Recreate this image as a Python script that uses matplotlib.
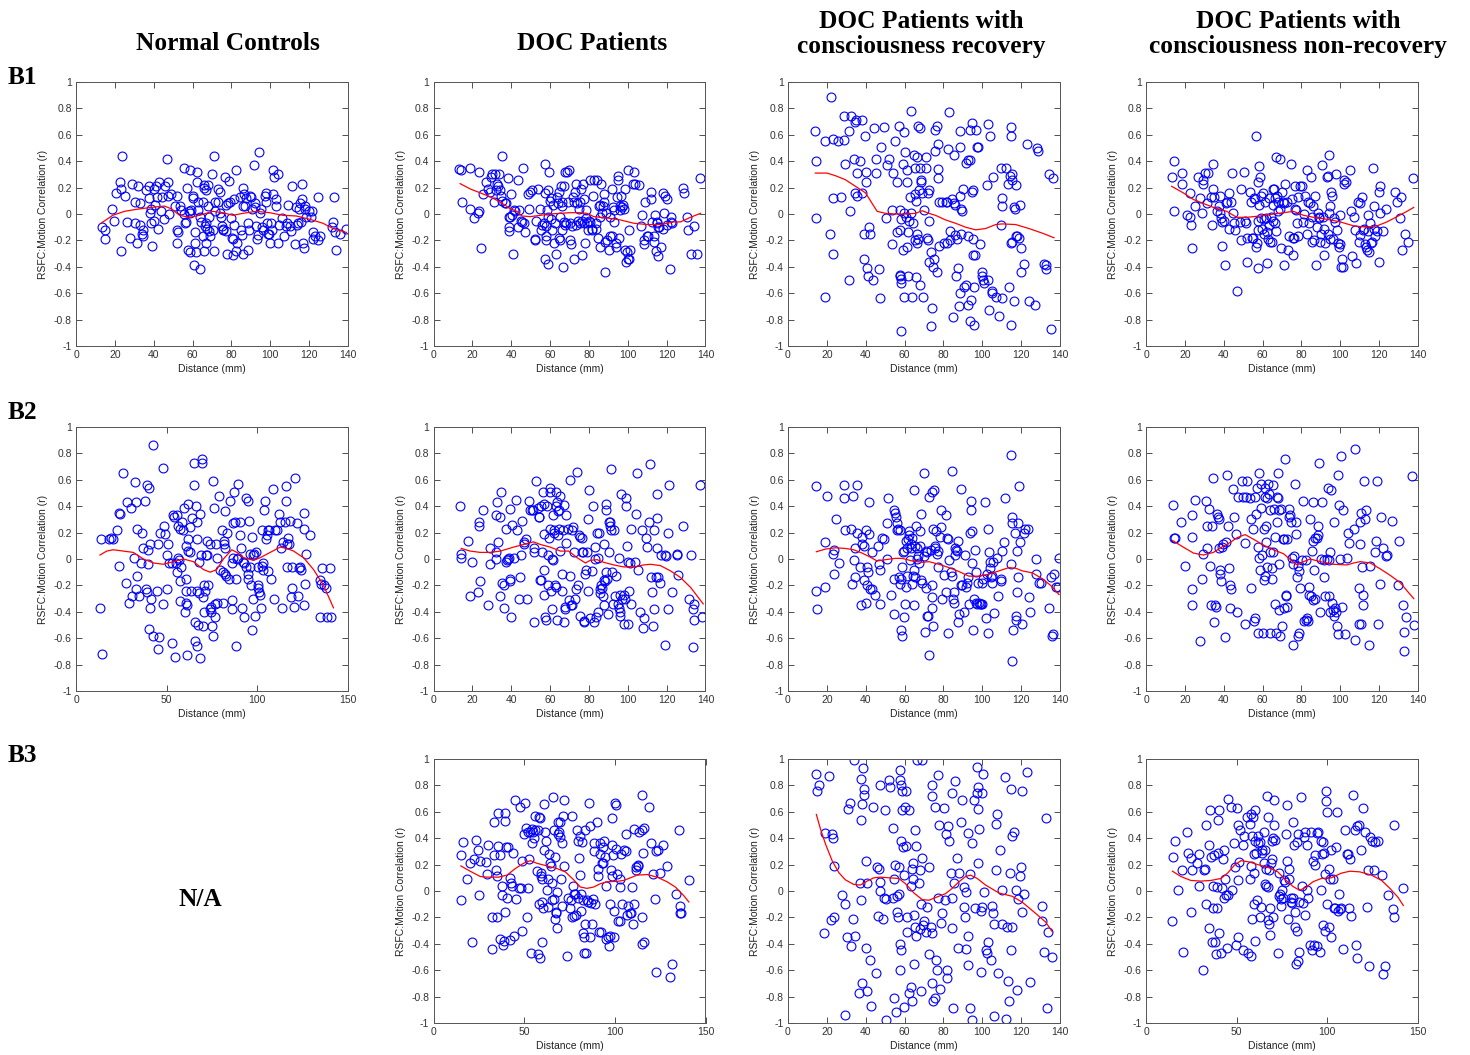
import numpy as np
import matplotlib.pyplot as plt

plt.rcParams['font.family'] = ['Liberation Sans', 'DejaVu Sans']

# ---------------- data ----------------
col_titles = ["Normal Controls", "DOC Patients",
              "DOC Patients with\nconsciousness recovery",
              "DOC Patients with\nconsciousness non-recovery"]
row_labels = ["B1", "B2", "B3"]
y_ticks = [-1, -0.8, -0.6, -0.4, -0.2, 0, 0.2, 0.4, 0.6, 0.8, 1]
y_tick_labels = ["-1", "-0.8", "-0.6", "-0.4", "-0.2", "0", "0.2", "0.4", "0.6", "0.8", "1"]
x_ticks_140 = [0, 20, 40, 60, 80, 100, 120, 140]
x_ticks_150 = [0, 50, 100, 150]

b1_nc = [(13.2,-0.10),(14.9,-0.12),(14.8,-0.19),(18.6,0.04),(19.8,-0.05),(20.6,0.16),(22.7,0.24),(23.4,0.19),(23.5,0.44),(23.2,-0.28),
(25.4,0.14),(26.3,-0.06),(27.7,-0.18),(28.9,0.23),(30.4,0.09),(30.4,-0.07),(31.8,0.21),(31.6,-0.22),(33.0,0.08),(33.0,-0.08),
(34.0,-0.15),(34.4,-0.17),(34.7,-0.12),(36.1,0.18),(37.5,0.21),(37.8,0.12),(38.3,0.01),(38.5,0.04),(38.7,-0.07),(39.2,-0.24),
(39.9,-0.05),(40.2,0.19),(40.9,0.07),(41.2,0.21),(42.1,-0.11),(42.6,0.24),(41.7,0.13),(43.8,0.02),(44.3,0.13),(45.4,-0.04),
(46.0,0.21),(46.7,0.42),(47.4,0.24),(47.1,0.14),(48.1,0.00),(49.0,0.15),(50.9,0.06),(51.9,0.14),(51.9,-0.22),(52.2,-0.12),
(52.7,-0.14),(53.3,0.06),(54.1,0.03),(55.5,0.35),(55.8,0.00),(56.2,-0.07),(56.7,-0.06),(57.0,0.20),(57.7,-0.27),(58.4,0.02),
(58.6,0.33),(58.8,-0.29),(58.9,0.01),(59.4,0.03),(60.0,0.12),(60.1,0.14),(60.5,-0.39),(61.0,-0.14),(61.3,-0.22),(62.0,-0.29),
(62.4,0.24),(62.5,0.32),(62.7,0.09),(62.9,0.03),(63.6,-0.42),(63.9,-0.02),(64.4,-0.06),(65.3,-0.17),(65.6,0.09),(65.8,-0.28),
(66.0,0.20),(66.1,0.22),(66.3,-0.09),(66.7,-0.22),(66.8,0.18),(67.0,-0.07),(67.5,-0.11),(67.9,0.22),(68.0,0.06),(68.4,-0.13),
(68.7,-0.02),(69.1,-0.17),(70.1,0.30),(70.4,-0.12),(70.8,0.44),(71.1,-0.28),(71.5,0.09),(71.6,0.02),(73.0,0.19),(73.2,0.09),
(73.9,0.17),(74.2,0.01),(74.7,-0.02),(75.2,-0.09),(75.6,-0.11),(75.9,-0.12),(76.6,0.28),(77.0,0.07),(77.3,-0.13),(77.7,-0.30),
(78.0,0.08),(78.7,0.25),(79.4,0.09),(79.9,-0.03),(80.2,-0.18),(80.6,-0.19),(80.7,-0.31),(81.1,-0.08),(81.4,0.11),(82.1,0.33),
(82.5,-0.28),(83.1,-0.22),(84.5,0.13),(85.0,-0.12),(85.6,-0.16),(85.7,-0.30),(85.9,0.20),(86.2,0.06),(86.6,0.15),(86.9,0.06),
(87.6,0.12),(88.5,-0.27),(88.6,-0.07),(89.3,-0.12),(89.5,0.14),(90.0,0.13),(90.5,0.04),(91.7,0.37),(91.9,0.08),(92.3,0.05),
(92.8,-0.09),(93.3,-0.19),(93.6,-0.16),(94.0,0.47),(94.5,0.01),(95.3,0.04),(95.9,-0.10),(96.2,-0.12),(97.2,0.14),(97.6,0.09),
(97.9,0.16),(98.4,-0.07),(98.9,-0.15),(99.3,-0.15),(99.6,-0.22),(100.3,-0.07),(100.8,-0.12),(101.2,0.15),(101.4,0.33),(102.0,0.28),
(102.7,0.06),(103.1,0.11),(103.8,0.30),(104.1,-0.22),(104.3,-0.08),(106.0,-0.03),(107.2,-0.17),(108.2,-0.09),(108.6,-0.07),(109.3,0.07),
(110.0,-0.09),(110.5,-0.13),(111.3,0.21),(112.5,-0.23),(113.4,0.05),(113.7,-0.08),(114.4,-0.07),(114.8,0.04),(115.1,0.08),(115.8,-0.06),
(116.3,0.11),(116.5,0.23),(116.8,-0.22),(117.3,-0.26),(117.9,0.06),(117.9,0.04),(118.5,-0.02),(120.1,0.02),(120.9,-0.02),(121.5,0.02),
(122.0,-0.19),(122.1,-0.14),(123.2,-0.17),(124.4,-0.20),(124.4,0.13),(125.8,-0.17),(131.8,-0.10),(132.1,-0.06),(132.8,0.13),(133.5,-0.14),
(134.0,-0.27),(136.1,-0.15),(138.8,-0.11)]
b1_nc_fit_x = [12.9, 18.9, 24.9, 30.9, 38.7, 45.5, 49.0, 53.3, 58.4, 63.6, 70.4, 75.6, 80.7, 85.9, 92.8, 99.6, 106.5, 113.4, 120.3, 127.1, 132.3, 135.7, 139.2]
b1_nc_fit_y = [-0.07, -0.01, 0.02, 0.035, 0.05, 0.06, 0.04, -0.01, -0.025, -0.01, 0.02, 0.01, -0.01, 0.005, 0.02, 0.01, -0.01, -0.015, -0.04, -0.07, -0.11, -0.125, -0.14]

b1_doc = [(13.2,0.34),(14.4,0.33),(14.6,0.09),(18.9,0.35),(18.9,0.04),(21.1,-0.03),(22.7,0.01),(23.5,0.02),(23.2,0.32),(24.4,-0.26),
(25.3,0.15),(27.0,0.24),(28.0,0.19),(29.0,0.17),(29.7,0.28),(30.2,0.30),(31.3,0.09),(31.4,0.30),(32.3,0.18),(32.6,0.23),
(33.0,0.21),(33.7,0.30),(34.0,0.18),(34.5,0.14),(35.2,0.44),(35.2,0.10),(36.9,0.08),(37.5,0.08),(38.1,0.27),(38.7,-0.13),
(38.7,-0.10),(38.7,-0.02),(39.5,-0.02),(39.9,0.15),(40.4,-0.01),(40.7,-0.30),(41.6,0.03),(41.7,0.02),(43.3,-0.10),(43.5,0.26),
(44.2,0.03),(45.0,-0.05),(45.7,-0.06),(45.9,0.35),(46.4,-0.07),(46.9,-0.14),(48.4,0.15),(49.3,0.04),(49.5,0.17),(50.7,0.18),
(52.4,-0.19),(52.4,-0.20),(52.7,-0.05),(53.6,0.19),(54.8,0.04),(55.3,-0.12),(55.8,-0.08),(56.7,-0.07),(57.2,0.38),(57.4,0.16),
(57.6,-0.34),(57.7,-0.09),(57.9,-0.20),(58.1,-0.17),(58.4,0.03),(58.8,-0.02),(58.9,-0.38),(59.1,0.18),(59.4,0.32),(59.8,0.10),
(60.5,-0.04),(60.6,0.12),(61.0,-0.12),(61.5,0.07),(61.8,-0.22),(62.7,-0.07),(63.1,-0.30),(63.6,0.13),(63.9,0.08),(64.4,-0.18),
(64.6,0.17),(64.9,-0.20),(65.3,-0.02),(65.6,0.21),(66.0,0.06),(66.1,-0.12),(66.3,0.09),(66.7,-0.40),(67.0,-0.06),(67.3,0.21),
(67.5,0.32),(67.7,-0.08),(68.4,-0.07),(68.7,0.32),(69.1,0.09),(69.6,0.33),(70.1,-0.20),(70.4,-0.07),(70.8,-0.23),(71.3,-0.09),
(71.6,0.13),(72.2,-0.34),(72.5,0.09),(72.8,0.17),(73.2,-0.08),(73.5,0.23),(73.9,0.08),(74.2,-0.05),(74.9,0.04),(75.2,-0.07),
(75.6,0.09),(75.9,0.19),(76.3,-0.31),(76.6,-0.05),(77.0,0.23),(77.3,-0.07),(77.7,0.11),(78.0,-0.22),(78.3,0.03),(78.7,-0.03),
(79.0,-0.07),(79.4,-0.12),(80.1,-0.05),(80.4,0.26),(80.7,-0.06),(81.4,-0.11),(81.8,-0.12),(82.1,0.14),(82.8,0.26),(83.5,-0.07),
(83.8,-0.11),(84.2,0.26),(84.5,-0.18),(85.0,0.06),(85.6,-0.25),(85.9,-0.02),(85.9,0.07),(86.4,0.23),(86.9,0.01),(87.3,0.06),
(87.6,0.15),(88.0,0.09),(88.1,-0.44),(88.5,-0.21),(89.0,0.01),(89.5,-0.20),(90.2,-0.27),(90.7,-0.02),(91.1,-0.17),(91.7,0.19),
(91.9,-0.17),(92.4,0.05),(92.8,0.03),(93.1,-0.06),(93.8,-0.22),(94.1,-0.25),(94.5,0.13),(94.8,0.26),(95.2,0.29),(95.3,-0.18),
(95.9,0.03),(96.2,0.06),(96.7,0.14),(97.1,0.05),(97.4,0.07),(97.9,0.04),(98.4,-0.27),(98.8,0.19),(99.3,-0.36),(99.6,-0.29),
(100.0,-0.34),(100.3,0.33),(100.7,-0.34),(100.8,-0.12),(101.2,-0.27),(102.7,0.23),(103.1,0.32),(103.8,0.23),(105.8,0.22),(106.7,-0.09),
(107.4,-0.01),(108.1,-0.20),(108.6,-0.23),(109.1,0.09),(110.0,-0.17),(110.6,-0.17),(111.7,0.17),(112.0,0.11),(112.4,-0.06),(113.4,-0.17),
(113.7,-0.21),(114.1,-0.01),(114.4,-0.28),(114.8,-0.06),(115.1,-0.07),(115.4,-0.10),(115.8,-0.32),(116.1,-0.10),(117.2,-0.25),(117.9,0.16),
(118.2,-0.11),(118.5,0.01),(119.4,0.14),(120.1,0.11),(120.3,-0.08),(121.5,-0.42),(122.0,-0.06),(122.3,-0.02),(122.8,-0.07),(128.5,0.20),
(128.7,0.16),(130.6,-0.02),(130.9,-0.12),(132.3,-0.30),(134.0,-0.09),(135.4,-0.30),(137.4,0.27)]
b1_doc_fit_x = [13.7, 18.9, 24.1, 29.2, 34.4, 39.5, 43.0, 45.5, 49.8, 55.0, 60.1, 65.3, 70.4, 75.6, 79.0, 82.5, 89.3, 96.2, 103.1, 110.0, 116.8, 123.7, 127.1, 132.3, 137.4]
b1_doc_fit_y = [0.23, 0.19, 0.16, 0.13, 0.09, 0.04, 0.02, -0.015, -0.02, -0.01, 0.0, 0.005, 0.01, 0.01, 0.005, -0.02, -0.03, -0.045, -0.07, -0.08, -0.08, -0.06, -0.06, -0.025, 0.005]

b1_rec = [(22.3,0.89),(14.1,0.63),(14.4,0.40),(19.2,0.55),(23.2,0.57),(25.6,0.55),(28.9,0.56),(29.0,0.74),(29.5,0.38),(31.3,0.63),
(32.5,0.74),(33.8,0.42),(34.4,0.70),(35.0,0.71),(35.6,0.31),(34.4,0.16),(35.6,0.14),(37.1,0.40),(38.1,0.71),(38.1,0.16),
(39.7,0.59),(39.9,0.32),(40.2,0.24),(23.2,0.12),(27.3,0.13),(32.1,0.02),(14.4,-0.03),(21.5,-0.15),(23.4,-0.30),(31.3,-0.50),
(19.2,-0.63),(39.0,-0.15),(39.2,-0.34),(40.7,-0.41),(41.2,-0.47),(41.6,-0.10),(42.4,-0.15),(43.6,-0.50),(44.2,0.65),(45.5,0.42),
(45.5,0.31),(46.7,-0.42),(47.2,-0.64),(47.8,0.51),(49.5,0.66),(50.3,-0.03),(51.0,0.37),(51.9,0.42),(53.3,-0.23),(53.6,0.03),
(53.9,0.31),(55.1,0.55),(56.2,0.24),(56.2,-0.14),(57.0,0.67),(57.4,0.03),(57.7,-0.12),(57.9,-0.46),(57.9,-0.47),(58.2,-0.49),
(58.4,-0.52),(58.4,-0.04),(58.2,-0.89),(59.1,-0.27),(59.3,0.38),(59.6,0.62),(59.6,0.01),(59.8,-0.63),(60.1,0.47),(60.5,-0.02),
(61.2,0.33),(61.3,-0.25),(61.5,0.24),(61.8,-0.47),(62.2,-0.05),(61.8,-0.14),(62.7,0.13),(63.1,0.78),(63.2,0.01),(63.6,-0.63),
(64.3,-0.07),(64.8,0.45),(65.3,0.15),(65.3,0.35),(65.6,-0.20),(66.0,0.10),(66.1,-0.48),(66.3,-0.22),(66.5,0.43),(66.5,-0.15),
(66.7,0.67),(67.0,-0.19),(67.3,0.18),(67.7,0.65),(67.9,0.35),(68.0,-0.54),(68.2,0.24),(68.7,0.26),(69.1,0.16),(69.4,-0.63),
(70.1,0.03),(70.8,0.43),(70.8,0.35),(71.3,-0.18),(72.0,-0.20),(72.2,0.16),(72.5,0.18),(72.5,-0.05),(72.8,-0.36),(73.5,-0.29),
(73.9,-0.71),(73.4,-0.85),(74.6,-0.40),(75.2,-0.34),(75.6,0.64),(75.9,0.48),(76.8,0.67),(77.0,0.53),(77.3,0.34),(77.3,0.27),
(77.7,-0.24),(76.8,-0.44),(77.7,0.09),(79.4,0.09),(80.2,-0.22),(81.1,0.09),(81.6,0.09),(81.9,-0.22),(82.3,0.49),(82.8,0.77),
(83.2,-0.13),(83.3,-0.20),(84.4,0.11),(84.9,-0.78),(85.2,0.45),(85.6,0.08),(85.9,-0.16),(86.2,0.07),(86.4,-0.47),(86.9,-0.19),
(87.3,-0.41),(88.0,-0.70),(88.3,0.14),(88.5,0.51),(88.6,0.63),(88.6,-0.60),(89.0,-0.15),(89.3,0.04),(89.7,0.02),(89.9,0.19),
(90.7,-0.55),(91.4,-0.54),(91.7,0.39),(92.4,-0.69),(92.4,-0.17),(92.8,0.41),(93.5,0.41),(93.5,-0.81),(93.8,0.64),(94.1,-0.65),
(94.5,0.69),(94.8,0.17),(95.2,-0.31),(95.3,0.18),(95.3,-0.19),(95.7,-0.84),(95.9,-0.55),(96.2,-0.31),(96.9,0.64),(97.2,0.51),
(97.8,0.51),(98.6,-0.23),(100.0,-0.44),(100.0,-0.47),(100.3,-0.50),(100.8,-0.52),(102.6,0.22),(102.7,0.68),(102.9,-0.50),(103.4,-0.73),
(103.8,0.59),(104.8,-0.58),(105.5,0.28),(105.1,-0.60),(106.9,-0.63),(108.6,-0.77),(109.4,0.35),(110.0,-0.64),(109.8,-0.08),(110.3,0.12),
(110.3,0.06),(112.0,0.35),(113.2,0.23),(113.7,-0.55),(114.2,0.29),(114.6,0.66),(114.8,0.59),(114.9,-0.22),(115.1,0.26),(115.4,-0.21),
(115.4,0.30),(116.3,0.05),(116.5,-0.66),(116.8,0.04),(117.2,0.22),(117.3,-0.17),(118.0,-0.17),(118.9,-0.18),(119.2,0.07),(119.9,-0.26),
(119.7,-0.44),(121.5,-0.38),(123.2,0.53),(124.0,-0.66),(128.3,0.50),(128.8,0.48),(127.1,-0.69),(131.8,-0.38),(132.6,-0.39),(133.0,-0.42),
(134.3,0.30),(136.6,0.27),(135.4,-0.87),(114.6,-0.84)]
b1_rec_fit_x = [14.1, 20.1, 24.4, 29.5, 34.7, 39.9, 43.3, 45.9, 50.2, 55.3, 60.5, 65.6, 69.1, 72.5, 75.9, 81.1, 86.2, 91.4, 96.6, 101.7, 106.9, 110.3, 117.2, 124.0, 130.9, 136.9]
b1_rec_fit_y = [0.31, 0.31, 0.29, 0.26, 0.21, 0.16, 0.08, 0.02, 0.005, 0.0, 0.0, 0.005, 0.025, 0.005, -0.01, -0.045, -0.07, -0.10, -0.12, -0.11, -0.08, -0.075, -0.08, -0.11, -0.145, -0.18]

b1_nrec = [(13.2,0.28),(14.3,0.40),(14.3,0.02),(18.7,0.31),(18.6,0.23),(21.0,-0.01),(22.5,-0.02),(22.7,0.16),(23.2,-0.08),(23.9,-0.26),
(25.1,0.06),(26.6,0.28),(28.0,0.12),(28.7,0.01),(29.2,0.26),(29.5,0.23),(30.6,0.31),(31.3,0.08),(32.1,0.31),(33.3,0.13),
(33.8,-0.08),(34.4,0.19),(34.7,0.38),(35.0,0.13),(36.8,0.02),(37.6,0.06),(38.1,0.14),(38.3,0.01),(38.7,-0.03),(39.0,-0.24),
(39.3,-0.06),(40.2,-0.05),(40.7,-0.39),(41.2,0.08),(41.9,0.09),(42.8,-0.11),(42.9,0.16),(43.6,0.09),(44.5,0.31),(45.0,0.01),
(45.4,-0.07),(46.0,-0.12),(46.7,-0.58),(48.4,-0.06),(48.8,-0.20),(48.8,0.19),(50.2,0.32),(50.9,-0.05),(51.5,-0.07),(51.9,-0.18),
(52.2,-0.36),(53.3,0.17),(54.1,0.09),(54.6,-0.18),(55.3,-0.18),(55.8,0.12),(56.2,0.11),(56.5,0.59),(56.7,-0.25),(57.0,-0.22),
(57.4,-0.12),(57.6,0.24),(57.9,-0.05),(57.9,-0.41),(58.2,0.36),(58.4,0.07),(58.8,0.28),(59.1,0.14),(59.3,-0.03),(59.8,-0.11),
(60.1,0.16),(60.5,-0.04),(60.8,-0.15),(61.2,0.09),(61.8,-0.03),(62.2,-0.14),(62.5,-0.37),(62.9,-0.19),(63.2,-0.08),(63.4,0.12),
(63.9,-0.21),(64.3,-0.02),(64.8,-0.21),(65.3,0.07),(65.6,0.19),(65.6,-0.05),(66.0,0.19),(66.3,0.12),(66.5,-0.07),(66.7,-0.13),
(67.0,0.43),(67.3,0.14),(67.7,0.09),(68.0,0.02),(69.1,0.42),(69.1,0.04),(69.4,-0.26),(69.8,0.17),(70.3,0.09),(70.8,0.08),
(71.1,-0.39),(71.8,0.23),(72.5,0.09),(73.0,-0.27),(73.7,-0.17),(74.6,0.38),(75.1,0.11),(75.6,-0.18),(75.9,-0.31),(76.3,-0.18),
(76.8,0.21),(76.8,0.04),(77.1,0.03),(77.7,-0.07),(78.0,0.13),(78.3,-0.17),(79.4,0.21),(80.4,0.21),(80.7,-0.06),(81.1,0.00),
(81.9,0.14),(82.8,0.33),(82.8,-0.15),(83.2,0.09),(83.7,-0.07),(84.2,0.08),(84.9,0.28),(85.2,-0.21),(85.6,-0.02),(86.2,0.06),
(86.6,-0.20),(87.1,0.14),(87.6,-0.39),(88.0,-0.10),(88.3,0.01),(88.8,-0.02),(89.3,-0.03),(89.7,-0.21),(90.0,-0.15),(90.5,0.37),
(91.1,-0.02),(91.4,-0.11),(91.7,-0.31),(92.3,-0.22),(93.1,0.28),(93.5,0.29),(93.8,-0.15),(94.0,0.01),(94.3,0.45),(94.5,0.06),
(94.8,-0.19),(95.2,0.17),(95.7,0.14),(96.2,-0.19),(96.6,-0.03),(97.2,-0.06),(97.9,0.30),(98.3,-0.12),(98.6,-0.22),(99.1,-0.25),
(99.6,-0.23),(100.0,-0.01),(100.3,-0.40),(100.8,-0.34),(101.4,-0.40),(101.7,0.26),(102.0,0.23),(102.7,0.24),(105.1,0.33),(105.5,0.02),
(105.8,-0.32),(106.9,-0.02),(107.7,-0.12),(108.1,-0.37),(108.9,0.09),(109.4,-0.21),(110.0,-0.16),(110.3,0.08),(111.2,0.13),(111.7,-0.12),
(112.4,-0.11),(112.9,-0.23),(113.2,-0.25),(113.7,-0.27),(114.1,-0.13),(114.4,-0.01),(114.8,-0.29),(115.4,-0.07),(115.8,-0.22),(116.3,-0.21),
(116.8,0.35),(117.2,-0.11),(117.5,0.06),(118.0,-0.17),(118.9,-0.13),(119.7,-0.36),(119.9,0.17),(120.3,0.21),(120.6,0.01),(121.8,-0.13),
(123.5,0.04),(128.3,0.17),(129.2,0.09),(130.6,-0.03),(131.3,0.13),(131.9,-0.27),(133.5,-0.15),(134.9,-0.21),(137.4,0.27)]
b1_nrec_fit_x = [13.2, 19.2, 24.4, 29.5, 34.7, 41.6, 46.7, 51.9, 58.8, 65.6, 70.8, 75.9, 81.1, 86.2, 93.1, 100.0, 106.9, 113.7, 118.9, 124.0, 129.2, 134.3, 137.8]
b1_nrec_fit_y = [0.21, 0.16, 0.11, 0.08, 0.05, 0.02, -0.025, -0.025, -0.015, 0.0, 0.01, 0.02, -0.01, -0.025, -0.04, -0.06, -0.09, -0.10, -0.09, -0.06, -0.02, 0.02, 0.05]

b2_nc = [(13.2,-0.37),(14.5,-0.72),(13.6,0.15),(18.2,0.15),(19.2,0.16),(20.2,0.15),(22.8,0.22),(23.7,-0.05),(23.9,0.35),(24.1,0.34),
(26.1,0.65),(27.4,-0.18),(28.0,0.43),(29.1,-0.33),(30.4,0.39),(31.1,-0.28),(32.0,0.01),(32.6,0.58),(32.9,0.43),(32.9,-0.23),
(33.5,0.23),(33.5,-0.13),(35.0,-0.28),(35.9,-0.03),(36.2,0.20),(36.8,0.08),(38.1,0.44),(38.6,-0.23),(39.0,0.56),(39.0,-0.25),
(39.6,0.07),(39.6,-0.04),(40.5,-0.53),(40.5,0.54),(40.8,0.11),(40.8,-0.37),(41.4,-0.30),(42.3,-0.58),(42.7,0.86),(44.5,-0.24),
(45.4,0.11),(45.4,-0.68),(46.0,-0.59),(46.4,0.20),(47.8,-0.34),(47.8,0.69),(48.8,0.25),(49.1,0.19),(50.0,0.03),(50.4,-0.23),
(51.0,0.11),(51.5,-0.03),(52.8,-0.64),(52.8,-0.03),(53.4,0.33),(54.1,0.32),(54.5,-0.74),(55.2,-0.03),(55.9,-0.10),(55.9,0.33),
(56.5,0.25),(56.5,0.01),(56.9,-0.01),(57.4,-0.32),(57.4,-0.17),(57.6,0.23),(57.8,-0.06),(58.3,0.28),(59.2,0.22),(59.6,0.39),
(60.2,-0.40),(60.4,-0.33),(60.7,0.10),(60.7,-0.15),(60.7,-0.24),(61.1,-0.73),(61.1,-0.35),(61.6,0.42),(61.6,0.15),(62.0,0.06),
(62.6,0.05),(62.9,0.24),(63.3,-0.24),(64.0,0.31),(64.8,0.56),(65.3,0.73),(65.7,-0.62),(65.7,-0.48),(66.2,0.40),(66.6,-0.66),
(66.6,0.28),(67.0,0.15),(67.0,-0.24),(67.5,-0.50),(67.7,-0.26),(68.1,-0.02),(68.4,0.34),(68.4,-0.75),(69.0,0.03),(69.4,0.76),
(69.6,0.73),(69.9,-0.29),(70.3,-0.51),(70.7,-0.20),(70.8,-0.40),(71.2,-0.24),(71.8,0.03),(72.1,0.03),(72.5,0.14),(73.0,-0.20),
(74.0,0.11),(74.0,-0.38),(74.3,-0.36),(74.7,-0.40),(74.9,-0.51),(75.4,-0.58),(75.8,0.59),(76.2,0.39),(76.5,-0.34),(76.9,-0.44),
(77.1,0.11),(77.6,0.01),(77.6,-0.33),(78.8,0.48),(79.5,-0.08),(80.4,0.22),(80.8,-0.33),(81.3,-0.10),(81.7,0.14),(81.7,0.11),
(82.1,0.08),(82.2,0.36),(82.4,-0.11),(82.8,-0.13),(83.5,0.20),(84.3,-0.15),(85.0,0.44),(85.9,-0.03),(85.9,-0.31),(86.3,-0.38),
(86.5,0.27),(86.8,0.01),(87.2,0.51),(87.6,0.28),(88.0,-0.15),(88.3,-0.66),(88.7,0.00),(89.1,0.57),(89.6,0.01),(90.2,0.28),
(90.5,0.18),(90.9,0.08),(91.4,-0.37),(92.0,-0.02),(92.4,-0.44),(92.7,-0.03),(93.5,-0.06),(93.8,0.46),(94.6,0.44),(94.8,-0.15),
(95.1,-0.11),(95.3,0.29),(95.7,0.04),(96.0,-0.06),(96.4,-0.20),(96.8,0.17),(97.0,-0.54),(97.5,-0.30),(97.5,0.03),(98.3,0.04),
(98.8,-0.43),(99.4,0.05),(100.1,-0.20),(100.3,-0.22),(100.6,-0.06),(101.0,-0.25),(101.6,-0.27),(101.9,-0.37),(102.3,0.22),(102.5,-0.05),
(103.0,-0.08),(103.4,-0.03),(103.8,0.37),(104.3,0.44),(104.7,0.15),(105.2,0.18),(105.8,-0.09),(106.0,0.22),(106.7,0.22),(107.6,-0.15),
(108.6,0.53),(109.3,-0.30),(109.7,0.22),(110.8,0.22),(112.1,0.34),(112.6,0.28),(113.0,0.08),(113.5,-0.37),(114.4,0.13),(115.4,0.28),
(115.7,0.55),(115.9,0.44),(116.3,0.11),(116.3,-0.06),(116.7,0.16),(117.4,0.11),(118.1,0.29),(118.7,-0.29),(119.0,-0.22),(119.2,-0.06),
(120.0,-0.36),(120.5,0.61),(121.8,0.27),(122.7,-0.28),(122.9,-0.07),(123.6,-0.06),(124.0,-0.08),(125.5,0.23),(125.5,0.35),(125.5,-0.35),
(126.2,-0.19),(126.6,0.04),(128.8,0.18),(134.3,-0.16),(134.7,-0.44),(135.1,-0.19),(135.8,-0.07),(136.5,-0.20),(137.8,-0.22),(138.4,-0.44),
(139.8,-0.07),(140.8,-0.44)]
b2_nc_fit_x = [13.2, 16.9, 20.6, 26.1, 31.6, 37.2, 42.7, 48.2, 53.7, 59.2, 64.8, 70.3, 74.0, 77.6, 81.3, 85.9, 88.7, 92.4, 97.9, 101.6, 107.1, 112.6, 116.3, 120.0, 125.5, 131.0, 136.5, 142.0]
b2_nc_fit_y = [0.03, 0.06, 0.07, 0.06, 0.05, 0.0, -0.03, -0.04, -0.02, 0.0, -0.02, -0.08, -0.10, -0.08, 0.0, 0.07, 0.05, 0.01, -0.01, 0.01, 0.05, 0.09, 0.08, 0.06, 0.01, -0.08, -0.20, -0.37]

b2_doc = [(13.7,0.40),(14.1,0.04),(14.4,0.01),(18.0,0.14),(18.6,-0.28),(19.9,-0.02),(22.8,-0.25),(23.2,0.28),(23.5,0.25),(23.7,-0.17),
(25.3,0.37),(27.8,-0.35),(28.9,0.08),(29.0,-0.04),(32.1,0.00),(32.3,0.05),(32.1,0.33),(32.5,0.43),(33.3,0.13),(34.0,0.32),
(34.4,-0.28),(34.7,0.51),(35.0,-0.18),(36.1,-0.20),(36.4,-0.37),(37.1,0.23),(37.5,-0.02),(37.8,-0.01),(38.1,0.00),(38.7,0.01),
(39.2,0.38),(39.2,-0.15),(39.3,-0.17),(39.9,-0.44),(40.4,0.26),(41.6,0.01),(42.4,0.45),(43.0,0.22),(43.8,-0.30),(44.7,-0.14),
(45.0,0.03),(45.7,0.29),(46.4,0.11),(46.7,0.13),(47.8,0.15),(48.3,-0.30),(49.0,0.44),(49.8,0.37),(50.5,0.37),(51.2,0.37),
(51.5,0.08),(51.9,0.05),(51.9,-0.48),(52.9,0.59),(53.6,0.39),(54.1,0.32),(54.5,0.32),(54.8,-0.16),(55.1,0.40),(55.3,-0.16),
(55.8,0.05),(56.4,0.51),(56.7,0.19),(57.0,0.42),(57.0,-0.08),(57.0,-0.27),(57.4,-0.44),(57.7,-0.46),(58.4,0.40),(58.8,-0.20),
(58.9,0.03),(59.3,0.16),(59.8,0.51),(59.8,0.23),(60.1,0.54),(60.5,-0.24),(60.8,-0.38),(61.0,0.00),(61.3,0.33),(61.5,-0.01),
(61.8,0.22),(62.2,0.20),(62.7,-0.20),(62.9,0.51),(62.9,0.40),(63.2,-0.21),(63.6,0.43),(63.6,-0.46),(63.9,0.36),(64.3,0.18),
(64.4,0.37),(64.8,0.23),(65.3,0.06),(65.3,0.48),(66.0,-0.24),(66.1,-0.11),(66.7,0.22),(67.0,-0.48),(67.3,0.41),(67.5,-0.38),
(67.9,-0.36),(68.4,0.12),(68.4,0.33),(69.1,0.23),(69.6,-0.31),(70.1,0.60),(70.4,-0.13),(70.8,-0.35),(71.1,0.22),(71.5,-0.35),
(71.8,0.24),(72.2,0.05),(72.7,-0.30),(73.5,-0.23),(73.9,0.66),(74.2,-0.20),(74.7,0.18),(75.2,-0.43),(75.6,0.17),(76.6,0.16),
(76.3,0.05),(77.0,0.05),(77.3,-0.47),(77.7,-0.48),(78.0,-0.11),(78.3,-0.08),(79.0,0.05),(79.4,0.30),(79.4,-0.24),(79.9,0.52),
(80.4,-0.45),(81.4,-0.09),(82.1,0.40),(82.8,-0.48),(83.0,0.09),(83.3,0.00),(83.8,-0.44),(84.2,0.20),(84.5,0.01),(84.9,-0.40),
(85.2,0.20),(85.6,-0.26),(85.9,-0.23),(86.2,-0.20),(86.9,-0.22),(87.3,-0.28),(87.6,-0.35),(87.6,0.11),(88.0,-0.16),(88.3,-0.17),
(88.6,0.37),(89.0,-0.10),(89.0,0.42),(89.3,-0.15),(89.7,-0.42),(90.2,0.05),(90.2,0.28),(90.7,0.25),(91.1,0.28),(91.4,0.68),
(91.4,0.22),(91.9,-0.10),(92.4,-0.34),(93.1,0.22),(93.6,-0.28),(94.1,-0.13),(94.8,-0.34),(95.3,0.01),(95.5,-0.37),(95.9,-0.40),
(96.2,-0.43),(96.2,-0.27),(96.6,0.49),(97.1,-0.30),(97.9,-0.49),(98.3,-0.27),(98.6,-0.30),(99.0,0.40),(99.3,0.46),(99.6,0.10),
(100.2,-0.49),(100.3,-0.02),(100.7,-0.24),(101.0,-0.03),(101.4,-0.34),(101.7,0.23),(103.9,-0.02),(104.3,0.34),(104.8,0.65),(105.1,-0.08),
(106.5,-0.40),(107.4,0.22),(107.9,-0.52),(108.6,-0.45),(109.6,0.16),(110.0,0.09),(110.8,0.28),(111.3,0.72),(112.0,-0.14),(112.5,-0.25),
(113.0,-0.51),(113.4,0.22),(113.7,-0.38),(114.4,-0.14),(114.8,0.31),(115.1,0.49),(115.1,0.08),(115.8,-0.14),(116.8,-0.18),(117.3,0.03),
(118.9,-0.65),(118.9,0.03),(119.9,0.02),(120.6,0.20),(120.6,-0.38),(121.3,0.56),(122.7,-0.25),(125.1,0.03),(125.4,0.04),(125.9,-0.12),
(128.2,0.25),(131.6,-0.30),(132.6,0.03),(133.5,-0.67),(133.7,-0.38),(134.0,-0.34),(134.3,-0.46),(137.4,0.56),(138.3,-0.44)]
b2_doc_fit_x = [14.3, 18.9, 24.1, 29.2, 34.4, 41.2, 46.4, 51.5, 55.0, 60.1, 65.3, 69.6, 73.9, 78.2, 80.7, 84.2, 87.6, 92.8, 97.9, 103.1, 108.2, 111.7, 116.8, 122.0, 127.1, 132.3, 135.7, 138.8]
b2_doc_fit_y = [0.08, 0.06, 0.05, 0.05, 0.06, 0.09, 0.11, 0.13, 0.11, 0.09, 0.06, 0.06, 0.01, -0.03, -0.01, -0.005, -0.025, -0.045, -0.06, -0.06, -0.045, -0.04, -0.05, -0.09, -0.14, -0.215, -0.28, -0.34]

b2_rec = [(14.6,0.55),(14.4,-0.24),(14.9,-0.38),(18.9,-0.21),(20.1,0.48),(19.2,0.13),(23.0,0.04),(23.5,0.07),(23.5,-0.11),(24.9,0.30),
(26.5,-0.03),(28.7,0.56),(28.9,0.46),(29.5,0.22),(32.6,0.23),(32.8,-0.19),(33.3,0.48),(33.8,-0.01),(34.4,0.08),(34.7,-0.14),
(35.7,0.56),(35.6,0.20),(37.3,-0.06),(37.6,-0.35),(38.1,0.11),(38.1,0.17),(39.0,-0.16),(39.3,0.10),(40.2,0.22),(40.2,-0.33),
(40.5,-0.06),(40.9,-0.20),(41.2,-0.10),(41.9,0.19),(41.9,0.43),(42.4,-0.23),(43.3,0.05),(43.3,-0.23),(44.7,-0.27),(46.4,0.10),
(46.7,-0.04),(47.1,-0.08),(47.6,-0.34),(48.4,0.16),(49.3,0.15),(50.9,0.27),(51.0,0.00),(51.5,0.46),(52.9,-0.27),(54.5,0.37),
(54.6,-0.42),(54.6,-0.15),(55.3,0.35),(55.7,0.32),(56.0,0.27),(56.2,0.22),(56.7,0.23),(57.0,-0.14),(57.4,0.22),(57.9,-0.19),
(58.2,-0.15),(58.4,-0.54),(58.8,-0.06),(58.8,-0.58),(59.1,0.05),(59.6,0.06),(59.8,-0.44),(60.0,-0.34),(60.5,0.14),(60.8,-0.21),
(61.3,-0.13),(61.5,0.08),(61.8,0.15),(62.2,0.21),(62.5,0.18),(62.7,-0.01),(63.1,0.11),(63.2,0.08),(63.6,-0.19),(63.9,0.16),
(64.3,-0.13),(64.8,0.52),(64.8,-0.35),(65.1,-0.08),(65.3,0.10),(65.6,-0.14),(66.0,0.25),(66.3,0.00),(66.5,0.08),(66.8,0.02),
(67.3,-0.03),(67.7,0.21),(68.0,0.10),(68.2,0.34),(68.7,-0.16),(69.1,-0.18),(69.8,0.65),(70.1,0.02),(70.4,-0.55),(70.8,-0.22),
(71.1,0.06),(71.8,0.05),(71.6,-0.43),(72.2,-0.43),(72.5,-0.73),(72.8,0.47),(73.9,0.51),(73.5,0.07),(73.9,-0.20),(74.2,-0.37),
(74.2,-0.29),(74.6,-0.51),(74.7,0.23),(75.2,0.52),(75.6,0.10),(75.9,0.08),(76.3,0.21),(76.6,0.04),(77.0,-0.06),(77.3,0.06),
(78.0,0.17),(78.5,0.37),(79.0,0.24),(79.4,-0.30),(80.2,-0.12),(81.1,0.33),(81.4,-0.25),(81.8,0.16),(82.1,0.15),(82.5,-0.56),
(82.8,-0.01),(83.7,-0.10),(84.2,0.67),(84.5,-0.13),(84.9,-0.30),(85.2,-0.33),(85.6,-0.25),(85.9,0.08),(86.2,0.03),(86.6,0.07),
(86.9,0.06),(87.3,-0.48),(87.6,0.14),(88.0,-0.42),(88.8,-0.20),(89.2,0.53),(89.7,-0.20),(90.5,-0.40),(91.1,0.03),(91.4,-0.21),
(92.3,-0.18),(92.6,-0.14),(93.1,-0.34),(93.5,0.20),(94.0,0.37),(94.1,0.44),(94.5,0.21),(94.8,-0.03),(95.2,-0.54),(95.7,-0.30),
(96.2,0.07),(96.6,-0.33),(96.9,-0.10),(97.4,-0.34),(97.9,-0.18),(98.3,-0.33),(98.6,-0.34),(99.1,-0.34),(99.6,-0.34),(100.0,-0.18),
(100.3,-0.15),(101.4,0.43),(102.0,-0.45),(102.4,-0.11),(102.7,0.23),(102.9,-0.56),(103.4,0.05),(103.8,-0.02),(104.1,-0.07),(104.5,-0.14),
(104.8,-0.18),(105.1,-0.13),(105.5,-0.02),(106.0,-0.41),(107.7,0.01),(108.2,-0.28),(109.4,-0.15),(109.8,-0.17),(110.3,0.06),(111.0,0.13),
(111.7,0.46),(114.6,0.79),(114.8,-0.04),(115.1,0.32),(115.4,0.27),(115.4,-0.77),(116.0,-0.54),(116.7,0.20),(117.2,-0.46),(117.5,-0.43),
(117.7,0.06),(118.0,-0.25),(118.2,0.27),(118.5,-0.14),(118.9,0.55),(119.2,0.13),(120.3,-0.49),(121.5,0.20),(122.0,0.23),(123.7,0.23),
(124.0,-0.29),(124.4,-0.40),(127.5,0.00),(127.8,-0.11),(129.2,-0.18),(130.2,-0.18),(134.3,-0.37),(135.2,-0.14),(135.7,-0.58),(136.4,-0.57),
(136.9,-0.11),(137.8,-0.21),(139.2,-0.21),(139.5,0.01)]
b2_rec_fit_x = [14.6, 19.2, 24.4, 29.5, 33.8, 38.1, 41.6, 45.9, 50.2, 55.3, 58.8, 63.9, 69.1, 72.5, 77.7, 82.8, 88.0, 93.1, 98.3, 103.4, 108.6, 113.7, 117.2, 120.6, 125.8, 130.9, 135.2, 139.5]
b2_rec_fit_y = [0.055, 0.075, 0.085, 0.08, 0.07, 0.045, 0.02, -0.015, -0.005, 0.005, 0.005, -0.015, -0.025, -0.02, -0.04, -0.065, -0.095, -0.13, -0.13, -0.115, -0.09, -0.065, -0.07, -0.09, -0.105, -0.15, -0.20, -0.27]

b2_nrec = [(13.7,0.41),(17.9,0.28),(14.3,0.16),(14.8,0.16),(19.9,-0.05),(23.5,0.33),(23.5,0.17),(23.9,-0.23),(23.9,-0.35),(25.3,0.45),
(27.8,-0.62),(28.7,-0.15),(29.5,0.04),(30.9,0.44),(31.3,0.08),(31.6,0.25),(32.6,0.38),(33.0,-0.05),(33.3,-0.35),(33.8,0.25),
(34.4,0.61),(35.0,-0.48),(35.6,-0.35),(36.1,-0.36),(36.4,0.34),(37.3,0.32),(37.5,0.30),(37.8,0.08),(38.1,-0.11),(38.1,-0.08),
(38.7,-0.17),(39.0,0.09),(39.5,0.11),(40.9,-0.59),(41.2,0.13),(41.9,0.64),(42.4,0.25),(42.9,-0.07),(43.3,-0.20),(43.3,-0.37),
(43.6,-0.23),(45.0,0.53),(45.4,0.32),(46.4,0.19),(46.7,-0.40),(47.1,0.47),(49.3,0.59),(49.8,0.47),(50.8,0.12),(51.0,-0.49),
(51.5,0.47),(52.2,0.59),(53.6,0.46),(53.9,0.30),(54.1,-0.22),(55.3,0.23),(55.8,-0.47),(56.2,-0.45),(56.2,0.47),(56.7,0.34),
(57.0,0.54),(57.7,0.09),(57.9,-0.56),(58.1,0.65),(58.4,0.01),(58.8,-0.08),(59.1,0.39),(59.4,0.57),(59.6,0.03),(60.1,-0.56),
(60.5,0.23),(60.8,-0.16),(61.0,-0.13),(61.3,0.47),(61.5,0.54),(61.8,0.25),(61.8,0.13),(62.2,-0.06),(62.5,0.46),(62.7,0.57),
(63.1,0.49),(63.6,0.37),(63.9,0.05),(63.9,-0.56),(64.6,-0.07),(64.9,-0.15),(65.3,0.56),(65.6,0.05),(66.0,0.38),(66.3,-0.34),
(66.5,0.17),(67.0,-0.56),(67.3,0.47),(67.3,0.28),(67.7,0.65),(67.9,0.46),(68.2,-0.04),(68.4,0.37),(68.7,-0.39),(69.1,-0.58),
(69.4,0.38),(69.9,-0.51),(70.4,0.15),(70.8,-0.37),(71.1,0.15),(71.6,0.76),(72.0,-0.28),(72.2,-0.27),(72.5,-0.36),(72.8,0.15),
(73.4,0.38),(73.7,0.32),(74.2,0.33),(74.6,0.28),(75.1,0.01),(75.6,-0.04),(75.9,-0.65),(76.3,0.02),(76.8,0.57),(77.3,0.19),
(77.3,0.28),(77.7,-0.14),(78.0,-0.05),(78.3,-0.58),(78.5,-0.09),(78.7,-0.56),(79.4,-0.22),(80.2,-0.01),(80.7,0.44),(81.1,-0.47),
(82.1,-0.01),(82.5,-0.46),(82.8,-0.45),(83.3,-0.47),(83.7,-0.27),(84.0,-0.21),(84.5,0.30),(84.9,-0.28),(85.2,0.06),(85.7,0.43),
(85.9,-0.31),(86.2,0.14),(86.6,-0.08),(87.1,-0.30),(87.1,0.16),(88.0,0.16),(88.3,0.18),(88.6,0.25),(89.3,0.73),(89.7,-0.40),
(89.9,0.00),(90.5,0.43),(91.4,-0.01),(91.7,-0.14),(92.3,-0.28),(93.1,0.00),(93.6,0.54),(94.0,-0.28),(94.1,-0.01),(94.5,-0.40),
(94.8,0.05),(95.2,0.52),(95.7,-0.33),(96.2,-0.39),(96.6,-0.43),(96.9,0.28),(97.2,-0.37),(97.6,-0.40),(98.3,-0.51),(98.6,0.64),
(99.0,-0.57),(99.3,0.41),(99.6,0.00),(100.5,0.78),(101.0,-0.36),(101.4,0.37),(102.6,-0.57),(103.4,0.01),(103.9,0.20),(104.3,0.12),
(106.9,0.23),(107.4,0.83),(107.7,-0.61),(109.4,-0.22),(109.8,-0.49),(110.0,0.11),(110.3,0.28),(110.6,-0.49),(110.8,0.35),(111.2,-0.06),
(111.5,-0.35),(111.7,-0.27),(112.0,0.59),(112.9,0.30),(113.4,0.37),(114.6,-0.65),(115.4,-0.05),(117.7,0.05),(118.2,0.14),(118.9,0.59),
(119.2,-0.49),(120.6,-0.19),(120.9,0.32),(122.0,0.08),(123.5,0.02),(124.0,0.03),(126.8,0.29),(129.5,-0.20),(130.1,0.14),(132.1,-0.35),
(132.6,-0.55),(133.0,-0.70),(134.0,-0.44),(136.9,0.63),(137.8,-0.50)]
b2_nrec_fit_x = [13.7, 19.2, 24.4, 29.5, 34.7, 39.0, 43.3, 46.7, 51.0, 55.3, 60.5, 65.6, 70.8, 75.1, 77.7, 81.1, 84.5, 89.7, 96.6, 103.4, 106.9, 110.3, 115.4, 120.6, 125.8, 130.9, 134.3, 137.8]
b2_nrec_fit_y = [0.14, 0.09, 0.045, 0.03, 0.05, 0.09, 0.125, 0.16, 0.185, 0.15, 0.105, 0.07, 0.04, -0.015, -0.045, -0.02, 0.0, -0.02, -0.04, -0.045, -0.03, -0.02, -0.03, -0.075, -0.125, -0.18, -0.24, -0.30]

b3_doc = [(15.1,-0.07),(15.3,0.27),(16.2,0.37),(18.4,0.09),(19.9,0.21),(21.2,-0.39),(22.6,0.24),(23.6,0.39),(24.8,0.31),(25.2,-0.03),
(25.8,0.23),(29.1,0.22),(29.4,0.13),(29.8,0.35),(32.2,-0.44),(32.2,-0.20),(33.1,0.52),(33.1,0.27),(34.6,0.16),(35.0,0.11),
(35.0,-0.20),(35.3,0.59),(35.3,0.34),(36.4,0.27),(36.8,-0.36),(37.7,0.04),(37.9,-0.03),(38.6,-0.41),(39.0,-0.38),(39.4,-0.16),
(39.6,0.53),(39.7,0.59),(40.1,0.33),(40.5,-0.05),(41.0,0.33),(42.0,0.10),(42.0,-0.37),(42.7,0.06),(43.4,0.04),(43.8,0.29),
(44.5,-0.34),(45.1,0.69),(45.6,-0.06),(47.1,0.02),(47.5,0.64),(48.2,0.02),(48.8,0.23),(48.9,-0.30),(49.7,0.43),(50.4,0.67),
(50.8,0.48),(51.5,-0.20),(51.9,0.45),(52.3,0.02),(52.6,0.24),(53.2,0.45),(53.7,-0.47),(54.1,0.36),(54.5,0.47),(54.8,0.45),
(55.2,0.40),(56.1,0.46),(56.1,0.57),(57.0,0.15),(57.4,-0.48),(57.4,0.46),(58.0,0.56),(58.1,-0.10),(58.5,-0.51),(58.9,0.55),
(59.2,0.14),(59.4,0.11),(59.8,0.09),(59.8,-0.08),(60.0,-0.39),(60.4,-0.13),(60.7,0.31),(60.7,0.66),(61.6,0.45),(62.2,0.38),
(62.6,0.01),(62.9,0.09),(63.3,-0.12),(63.7,0.28),(64.0,0.21),(64.8,0.19),(65.1,0.06),(65.5,-0.07),(65.9,0.71),(66.2,-0.06),
(66.6,0.46),(66.8,-0.21),(67.0,0.26),(67.3,-0.16),(67.7,-0.17),(68.1,-0.28),(68.1,-0.01),(68.4,0.52),(68.8,0.43),(69.2,0.45),
(69.6,0.52),(69.9,0.41),(70.3,0.09),(70.7,0.36),(70.8,-0.11),(71.4,0.57),(71.8,0.69),(72.1,0.19),(73.6,-0.49),(74.3,-0.05),
(75.1,-0.13),(75.8,-0.07),(76.2,0.57),(76.5,-0.20),(76.9,0.04),(77.3,-0.02),(77.6,-0.19),(78.0,-0.02),(78.8,-0.18),(79.1,0.46),
(79.5,-0.05),(79.9,0.38),(80.2,0.25),(80.6,0.12),(81.0,0.42),(81.3,-0.02),(81.3,-0.15),(81.9,0.37),(82.2,-0.07),(82.4,-0.32),
(82.8,-0.35),(83.0,-0.47),(83.5,-0.25),(83.7,0.46),(84.3,-0.47),(84.6,-0.07),(85.2,-0.08),(85.7,0.67),(86.1,-0.35),(86.5,0.49),
(86.8,-0.09),(87.6,-0.25),(88.0,-0.06),(88.3,0.30),(88.7,0.36),(89.1,-0.10),(90.2,0.52),(90.5,0.17),(90.9,0.11),(91.3,-0.31),
(91.6,0.28),(92.0,0.36),(92.4,-0.31),(92.7,0.21),(93.5,0.21),(93.5,0.33),(93.8,0.38),(94.6,0.26),(94.9,-0.36),(95.3,0.04),
(96.0,-0.35),(96.8,-0.42),(97.2,-0.10),(97.5,-0.34),(97.9,0.16),(98.3,0.55),(98.4,0.11),(98.6,0.35),(99.0,0.27),(99.4,-0.35),
(99.7,-0.15),(100.1,0.67),(100.5,0.65),(100.8,0.32),(101.2,0.13),(101.9,-0.23),(103.0,-0.23),(102.7,0.03),(103.0,0.09),(103.4,0.28),
(103.8,-0.10),(104.9,0.31),(106.0,0.30),(106.4,0.43),(106.7,-0.18),(107.5,-0.11),(108.2,-0.17),(108.9,-0.17),(109.3,0.03),(110.0,-0.25),
(110.4,-0.10),(110.8,0.47),(111.5,0.16),(111.9,0.18),(112.6,0.19),(113.0,0.20),(113.5,0.45),(114.8,0.73),(115.0,0.46),(115.2,-0.20),
(115.2,-0.40),(115.6,0.29),(115.9,0.48),(116.3,-0.39),(118.7,0.64),(120.0,0.36),(120.9,0.13),(122.2,-0.06),(122.5,-0.61),(122.9,0.30),
(124.0,0.31),(124.8,0.14),(126.6,0.35),(128.8,0.19),(130.6,-0.65),(131.7,-0.55),(134.0,-0.02),(135.2,0.46),(135.8,-0.11),(136.2,-0.17),
(136.5,-0.17),(140.8,0.08)]
b3_doc_fit_x = [15.1, 20.2, 25.8, 29.4, 35.9, 40.5, 45.1, 49.7, 53.4, 57.0, 62.6, 68.1, 72.7, 77.3, 81.0, 84.6, 88.3, 92.0, 95.7, 101.2, 104.9, 108.6, 112.2, 117.8, 123.3, 128.8, 133.4, 138.0, 140.8]
b3_doc_fit_y = [0.19, 0.15, 0.11, 0.105, 0.105, 0.12, 0.17, 0.21, 0.23, 0.21, 0.19, 0.17, 0.145, 0.085, 0.03, 0.02, 0.03, 0.055, 0.07, 0.073, 0.08, 0.10, 0.12, 0.125, 0.105, 0.07, 0.03, -0.035, -0.083]

b3_rec = [(14.4,0.89),(14.9,0.76),(15.8,0.80),(18.4,-0.32),(19.2,0.44),(21.3,0.87),(22.2,-0.22),(22.7,0.43),(23.2,0.40),(23.5,-0.20),
(23.9,0.19),(27.8,-0.03),(29.2,-0.10),(29.5,-0.94),(30.4,-0.35),(30.8,0.62),(32.1,0.67),(32.6,-0.42),(33.3,-0.21),(33.8,0.99),
(34.4,-0.34),(36.4,-0.77),(36.9,0.06),(37.8,-0.07),(37.8,0.54),(37.8,0.85),(38.1,-0.70),(38.1,0.66),(38.7,0.93),(39.2,0.77),
(39.3,0.73),(39.9,-0.43),(39.9,0.23),(40.7,0.06),(40.9,-0.76),(42.4,-0.52),(42.9,-0.87),(43.6,0.64),(45.4,-0.62),(45.9,0.18),
(46.4,-0.19),(46.7,0.17),(47.1,0.07),(47.1,0.00),(47.6,0.80),(48.8,-0.21),(49.3,-0.05),(49.8,0.61),(50.5,-0.06),(50.5,-0.98),
(51.9,0.84),(52.7,0.79),(53.9,0.48),(53.9,-0.05),(54.5,-0.81),(54.8,0.09),(55.3,0.20),(55.7,-0.92),(56.2,-0.04),(56.2,-0.16),
(56.7,-0.20),(57.0,0.18),(57.0,-0.02),(57.4,-0.40),(57.4,-0.60),(57.6,0.92),(57.9,0.84),(58.1,0.38),(58.4,0.80),(58.4,-0.45),
(58.8,0.76),(58.8,0.61),(59.1,0.33),(59.6,-0.88),(59.8,0.12),(60.1,0.64),(60.5,0.76),(60.8,0.34),(61.2,-0.20),(61.3,-0.31),
(62.2,-0.77),(62.5,0.61),(63.1,0.04),(63.4,-0.73),(63.6,-0.83),(63.9,0.17),(64.3,0.09),(64.4,0.21),(64.6,-0.55),(64.8,-0.18),
(65.3,-0.27),(65.6,0.46),(66.0,0.34),(66.1,-0.34),(66.5,0.99),(67.3,0.06),(67.7,-0.29),(67.9,0.16),(68.2,-0.76),(68.7,-0.10),
(69.1,0.99),(69.1,0.25),(69.4,-0.26),(69.9,-0.23),(70.8,-0.31),(71.8,-0.12),(72.5,0.18),(72.8,-0.48),(73.5,-0.27),(73.9,-0.32),
(74.2,0.80),(74.2,0.72),(74.2,-0.70),(74.6,-0.83),(75.6,-0.81),(75.9,0.64),(76.3,-0.52),(76.6,-0.60),(77.0,0.88),(77.3,-0.05),
(77.7,0.50),(78.0,-0.74),(78.5,-0.24),(79.4,-0.17),(80.4,0.63),(80.7,-0.07),(81.4,0.43),(81.6,-0.66),(81.9,-0.60),(82.3,0.49),
(82.8,0.38),(83.7,0.14),(84.2,-0.28),(84.5,0.74),(84.5,-0.05),(84.9,-0.89),(85.4,0.06),(86.2,0.83),(87.1,0.25),(87.6,-0.43),
(88.0,0.14),(88.8,0.52),(89.7,0.69),(90.5,-0.12),(90.7,0.03),(91.1,-0.20),(91.4,-0.44),(91.4,-0.01),(92.4,-0.34),(92.4,-0.56),
(92.8,0.44),(93.5,-0.89),(93.5,0.13),(94.5,0.36),(94.8,-0.98),(95.7,0.69),(96.2,-0.13),(97.4,0.94),(97.4,0.74),(97.6,0.62),
(97.8,0.79),(97.9,0.21),(98.3,0.47),(99.1,-0.61),(99.1,-0.15),(99.6,-0.12),(100.0,0.74),(100.3,0.89),(101.0,-0.01),(102.0,-0.45),
(102.6,-0.47),(102.9,-0.39),(104.3,-0.52),(105.1,-0.11),(105.5,-0.17),(105.8,-0.25),(106.2,-0.95),(106.9,0.51),(107.2,0.16),(107.7,0.58),
(108.2,-0.62),(109.1,0.31),(110.0,0.01),(110.3,-0.25),(111.7,0.86),(112.4,-0.97),(112.9,-0.27),(113.2,-0.68),(113.7,-0.83),(114.1,0.14),
(114.6,0.77),(114.8,-0.45),(115.1,-0.27),(115.4,0.42),(116.3,0.45),(117.5,0.01),(117.9,-0.75),(118.5,-0.06),(119.2,0.11),(119.9,0.18),
(120.3,-0.16),(120.6,0.76),(121.5,-0.02),(123.2,0.90),(124.4,-0.69),(130.6,-0.11),(130.9,-0.23),(131.8,-0.46),(132.6,0.55),(133.5,-0.89),
(133.8,-0.31),(136.1,-0.50)]
b3_rec_fit_x = [14.6, 16.7, 19.2, 22.7, 26.1, 29.5, 33.8, 37.3, 40.7, 44.2, 47.6, 51.9, 57.0, 60.5, 64.8, 69.1, 72.5, 75.9, 81.1, 84.5, 88.0, 91.4, 94.0, 97.4, 101.7, 108.6, 115.4, 120.6, 127.5, 132.6, 136.1]
b3_rec_fit_y = [0.58, 0.47, 0.36, 0.23, 0.14, 0.085, 0.05, 0.045, 0.075, 0.10, 0.105, 0.10, 0.095, 0.055, -0.015, -0.065, -0.07, -0.05, -0.02, 0.02, 0.07, 0.11, 0.12, 0.095, 0.045, -0.015, -0.04, -0.085, -0.17, -0.235, -0.31]

b3_nrec = [(14.6,-0.23),(15.1,0.26),(16.2,0.38),(17.9,0.01),(19.6,0.16),(20.5,-0.46),(22.5,0.45),(23.4,0.29),(24.7,-0.16),(24.7,0.25),
(25.6,0.16),(28.4,0.21),(29.5,0.28),(29.5,0.04),(31.4,-0.60),(32.1,0.16),(32.5,0.17),(33.0,-0.10),(33.0,0.50),(34.9,0.35),
(34.9,-0.28),(35.2,0.61),(35.8,0.26),(36.2,-0.39),(36.7,0.04),(37.1,-0.13),(37.6,0.27),(38.0,-0.39),(38.6,-0.48),(39.1,0.03),
(39.1,-0.13),(39.5,0.54),(39.5,0.29),(40.4,0.61),(40.4,-0.32),(41.3,-0.47),(41.7,0.02),(42.3,0.24),(42.8,-0.05),(43.2,0.31),
(43.5,0.09),(43.9,-0.03),(44.6,-0.43),(45.0,-0.03),(45.4,0.70),(46.9,0.64),(47.2,0.01),(48.3,0.36),(49.1,0.18),(49.6,-0.41),
(50.2,0.63),(50.6,0.50),(50.9,0.08),(50.9,-0.35),(51.5,0.22),(52.0,0.46),(53.3,0.35),(53.3,-0.45),(54.2,0.42),(55.7,0.56),
(56.5,-0.47),(57.9,-0.49),(57.2,0.51),(57.6,0.09),(57.9,0.58),(57.9,0.19),(58.3,-0.21),(58.7,0.42),(59.0,0.56),(59.4,-0.10),
(59.4,0.28),(59.8,0.14),(60.1,0.38),(60.1,0.61),(60.3,-0.38),(60.7,0.29),(61.3,-0.07),(61.6,0.42),(62.0,0.36),(62.7,-0.20),
(63.1,0.37),(63.5,-0.12),(63.8,0.29),(64.2,0.31),(64.9,0.45),(65.3,0.21),(65.7,0.31),(65.7,0.05),(66.2,0.04),(66.4,0.17),
(66.8,0.72),(67.2,0.56),(67.2,0.03),(67.5,-0.22),(67.9,0.16),(68.1,-0.25),(68.3,-0.33),(68.6,-0.13),(69.0,0.21),(69.4,0.24),
(69.7,0.38),(70.1,-0.20),(70.1,0.40),(70.5,0.69),(70.8,0.50),(71.2,0.39),(72.7,-0.47),(73.1,0.14),(73.4,-0.04),(73.8,-0.02),
(74.2,-0.06),(74.5,-0.11),(74.9,0.01),(75.5,-0.05),(76.0,0.08),(76.8,0.07),(77.3,0.43),(77.5,0.23),(77.9,0.65),(78.2,-0.21),
(78.6,0.09),(79.0,0.17),(79.7,-0.05),(80.1,-0.08),(80.4,-0.09),(80.8,0.52),(81.2,-0.05),(81.5,0.35),(81.9,-0.16),(82.3,-0.27),
(82.8,-0.55),(83.0,-0.30),(83.4,0.37),(83.8,-0.53),(83.8,0.43),(84.1,-0.08),(84.5,-0.46),(85.6,0.71),(86.0,0.04),(86.7,-0.09),
(87.1,0.41),(87.5,0.45),(87.8,-0.18),(88.6,0.01),(88.9,0.35),(89.3,-0.05),(90.2,-0.41),(90.8,0.45),(91.5,-0.45),(92.1,0.23),
(92.6,-0.41),(93.0,0.20),(93.4,0.27),(94.1,0.44),(94.5,-0.42),(94.8,0.45),(95.8,-0.46),(96.3,0.01),(96.7,0.38),(97.0,0.28),
(97.6,0.37),(97.8,-0.26),(98.2,0.29),(98.5,-0.30),(98.9,0.13),(99.1,0.76),(99.4,0.68),(99.6,0.60),(100.0,-0.10),(100.7,-0.27),
(101.1,0.17),(101.5,0.09),(101.8,0.31),(102.2,-0.35),(103.3,0.09),(103.7,-0.13),(104.4,-0.13),(105.0,0.33),(105.5,0.60),(105.9,-0.15),
(106.3,-0.02),(107.0,-0.14),(107.7,-0.13),(108.7,-0.44),(109.6,0.46),(110.7,0.28),(111.4,0.28),(111.8,-0.13),(112.5,0.24),(113.3,-0.19),
(114.4,0.73),(115.5,0.46),(115.9,-0.41),(116.1,-0.51),(116.6,0.49),(117.7,0.50),(118.4,0.31),(119.7,0.63),(121.0,0.45),(121.8,-0.12),
(122.5,0.16),(122.9,-0.57),(123.4,0.41),(124.4,0.38),(125.8,0.16),(126.2,0.37),(127.7,0.38),(129.9,0.12),(130.8,-0.63),(131.7,-0.57),
(133.6,-0.03),(136.7,0.50),(136.3,-0.14),(136.5,-0.20),(141.9,0.02)]
b3_nrec_fit_x = [14.6, 19.2, 24.7, 30.3, 35.8, 41.3, 45.0, 48.7, 52.4, 57.0, 61.6, 67.2, 72.7, 77.3, 81.0, 84.7, 88.4, 92.1, 96.7, 102.2, 107.7, 112.4, 117.9, 124.4, 129.9, 134.5, 139.1, 141.9]
b3_nrec_fit_y = [0.15, 0.11, 0.08, 0.075, 0.08, 0.095, 0.135, 0.195, 0.23, 0.22, 0.20, 0.18, 0.145, 0.08, 0.035, 0.005, 0.03, 0.07, 0.095, 0.10, 0.135, 0.15, 0.145, 0.12, 0.08, 0.02, -0.05, -0.11]

# ---------------- layout ----------------
FIG_W, FIG_H = 1470, 1055
col_left = [76, 433.5, 788, 1146]
row_top = [82, 427, 759]
AX_W, AX_H = 272, 264

fig = plt.figure(figsize=(FIG_W / 100, FIG_H / 100), dpi=100)


def fx(px):
    return px / FIG_W


def fy(py):
    return 1 - py / FIG_H


def draw_panel(row, col, pts, fit_x, fit_y, xmax):
    ax = fig.add_axes([fx(col_left[col]), fy(row_top[row] + AX_H),
                       AX_W / FIG_W, AX_H / FIG_H])
    pts = np.array(pts)
    ax.plot(pts[:, 0], pts[:, 1], 'o', mfc='none', mec='#0000ff',
            ms=6.4, mew=0.8)
    ax.plot(fit_x, fit_y, '-', color='#ff0000', lw=0.9)
    ax.set_xlim(0, xmax)
    ax.set_ylim(-1, 1)
    ax.set_xticks(x_ticks_140 if xmax == 140 else x_ticks_150)
    ax.set_yticks(y_ticks)
    ax.set_yticklabels(y_tick_labels)
    ax.tick_params(direction='in', length=4, width=0.6, top=True, right=True,
                   labelsize=7.5, pad=3, colors='#333333')
    for s in ax.spines.values():
        s.set_linewidth(0.7)
        s.set_color('#555555')
    ax.set_xlabel('Distance (mm)', fontsize=7.5, labelpad=3, color='#222222')
    ax.set_ylabel('RSFC:Motion Correlation (r)', fontsize=7.5, labelpad=4,
                  color='#222222')
    return ax


panels = [
    (0, 0, b1_nc, b1_nc_fit_x, b1_nc_fit_y, 140),
    (0, 1, b1_doc, b1_doc_fit_x, b1_doc_fit_y, 140),
    (0, 2, b1_rec, b1_rec_fit_x, b1_rec_fit_y, 140),
    (0, 3, b1_nrec, b1_nrec_fit_x, b1_nrec_fit_y, 140),
    (1, 0, b2_nc, b2_nc_fit_x, b2_nc_fit_y, 150),
    (1, 1, b2_doc, b2_doc_fit_x, b2_doc_fit_y, 140),
    (1, 2, b2_rec, b2_rec_fit_x, b2_rec_fit_y, 140),
    (1, 3, b2_nrec, b2_nrec_fit_x, b2_nrec_fit_y, 140),
    (2, 1, b3_doc, b3_doc_fit_x, b3_doc_fit_y, 150),
    (2, 2, b3_rec, b3_rec_fit_x, b3_rec_fit_y, 140),
    (2, 3, b3_nrec, b3_nrec_fit_x, b3_nrec_fit_y, 150),
]
for p in panels:
    draw_panel(*p)

serif = dict(fontfamily='Liberation Serif', fontweight='bold', fontsize=18.3,
             ha='center', va='center', linespacing=1.14)
title_pos = [(228, 43), (592, 43), (921, 34), (1298, 34)]
for t, (x, y) in zip(col_titles, title_pos):
    fig.text(fx(x), fy(y), t, **serif)

for lab, y in zip(row_labels, [77, 413, 755]):
    fig.text(fx(22), fy(y), lab, **serif)

fig.text(fx(200), fy(900), 'N/A', **serif)

fig.savefig('out.png', dpi=100)
